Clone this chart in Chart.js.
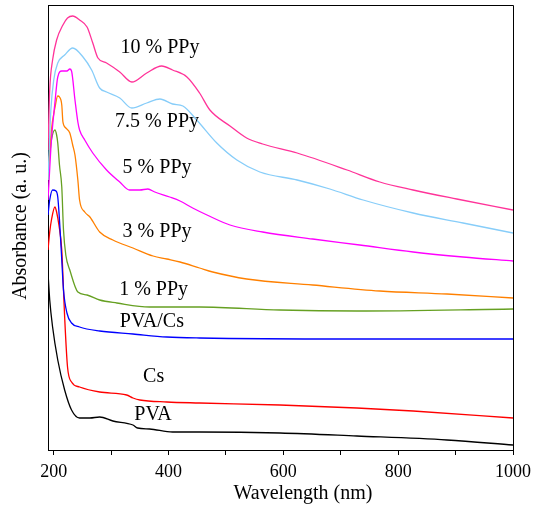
<!DOCTYPE html>
<html>
<head>
<meta charset="utf-8">
<script src="https://cdn.jsdelivr.net/npm/chart.js@4.4.1/dist/chart.umd.min.js"></script>
<style>
  html, body { margin: 0; padding: 0; background: #fff; }
  #wrap { width: 544px; height: 521px; }
</style>
</head>
<body>
<div id="wrap"><canvas id="chart" width="544" height="521"></canvas></div>
<script>
// wavelength (nm) / absorbance (a. u.)
const ppy10Wl = [190, 193, 198, 205, 216, 224, 233, 245, 258, 268, 277, 292, 315, 336, 362, 388, 407, 432, 454, 472, 507, 536, 564, 624, 711, 768, 826, 902, 1000];
const ppy10Abs = [3.00, 3.60, 3.90, 4.10, 4.25, 4.32, 4.34, 4.30, 4.23, 4.07, 3.92, 3.87, 3.78, 3.68, 3.77, 3.84, 3.80, 3.73, 3.57, 3.40, 3.24, 3.12, 3.06, 2.97, 2.80, 2.68, 2.60, 2.51, 2.40];

const ppy75Wl = [190, 195, 200, 207, 219, 233, 251, 266, 280, 292, 315, 336, 362, 385, 407, 425, 449, 484, 519, 559, 624, 681, 739, 826, 913, 1000];
const ppy75Abs = [2.70, 3.40, 3.70, 3.87, 3.95, 4.02, 3.93, 3.80, 3.62, 3.58, 3.52, 3.42, 3.47, 3.51, 3.46, 3.44, 3.30, 3.07, 2.90, 2.78, 2.70, 2.61, 2.50, 2.37, 2.27, 2.17];

const ppy5Wl = [190, 196, 202, 207, 214, 223, 228, 231, 237, 242, 245, 254, 268, 292, 315, 332, 350, 364, 376, 402, 420, 442, 467, 507, 564, 651, 733, 826, 913, 1000];
const ppy5Abs = [2.50, 3.10, 3.47, 3.73, 3.79, 3.79, 3.81, 3.79, 3.50, 3.28, 3.20, 3.10, 2.97, 2.80, 2.68, 2.60, 2.60, 2.61, 2.58, 2.53, 2.49, 2.42, 2.35, 2.25, 2.18, 2.11, 2.05, 1.98, 1.93, 1.89];

const ppy3Wl = [190, 196, 202, 207, 210, 214, 216, 221, 228, 233, 237, 242, 245, 254, 263, 280, 303, 338, 373, 397, 420, 454, 477, 536, 651, 768, 885, 1000];
const ppy3Abs = [2.70, 3.20, 3.42, 3.54, 3.53, 3.45, 3.28, 3.22, 3.17, 3.05, 2.95, 2.70, 2.50, 2.38, 2.33, 2.18, 2.10, 2.02, 1.94, 1.91, 1.88, 1.82, 1.78, 1.71, 1.65, 1.59, 1.56, 1.52];

const ppy1Wl = [190, 193, 196, 202, 205, 207, 210, 214, 217, 221, 228, 242, 258, 280, 310, 367, 454, 594, 728, 1000];
const ppy1Abs = [2.75, 2.95, 3.10, 3.20, 3.15, 3.07, 2.85, 2.63, 2.20, 1.95, 1.80, 1.58, 1.55, 1.50, 1.47, 1.43, 1.43, 1.40, 1.39, 1.41];

const pvaCsWl = [190, 193, 198, 204, 207, 210, 214, 217, 223, 231, 245, 280, 338, 397, 454, 716, 1000];
const pvaCsAbs = [2.35, 2.50, 2.60, 2.59, 2.53, 2.30, 1.90, 1.60, 1.37, 1.27, 1.23, 1.19, 1.16, 1.13, 1.12, 1.11, 1.11];

const csWl = [190, 193, 196, 202, 205, 209, 214, 217, 219, 224, 231, 245, 280, 327, 338, 350, 397, 454, 594, 728, 826, 1000];
const csAbs = [2.00, 2.18, 2.30, 2.43, 2.38, 2.25, 2.00, 1.60, 1.33, 0.83, 0.68, 0.63, 0.58, 0.55, 0.52, 0.50, 0.48, 0.47, 0.45, 0.42, 0.39, 0.32];

const pvaWl = [190, 193, 198, 207, 219, 231, 245, 263, 280, 303, 338, 346, 367, 407, 454, 594, 728, 885, 1000];
const pvaAbs = [1.77, 1.50, 1.23, 0.90, 0.60, 0.40, 0.32, 0.32, 0.33, 0.29, 0.25, 0.22, 0.21, 0.18, 0.18, 0.17, 0.14, 0.10, 0.05];

const seriesNames = ["10 % PPy", "7.5 % PPy", "5 % PPy", "3 % PPy", "1 % PPy", "PVA/Cs", "Cs", "PVA"];
const seriesColors = ["#ff3399", "#87cdf9", "#ff00ff", "#ff8000", "#66a022", "#0000ff", "#ff0000", "#000000"];

// where each curve name is written (wavelength, absorbance)
const labelWl = [385, 380, 380, 380, 374, 371, 374, 373];
const labelAbs = [4.02, 3.28, 2.82, 2.18, 1.60, 1.28, 0.73, 0.35];

const xTicks = [200, 300, 400, 500, 600, 700, 800, 900, 1000];

const wls = [ppy10Wl, ppy75Wl, ppy5Wl, ppy3Wl, ppy1Wl, pvaCsWl, csWl, pvaWl];
const absList = [ppy10Abs, ppy75Abs, ppy5Abs, ppy3Abs, ppy1Abs, pvaCsAbs, csAbs, pvaAbs];

const serif = "'Liberation Serif', 'Times New Roman', serif";

const datasets = seriesNames.map((name, i) => ({
  label: name,
  data: wls[i].map((w, j) => ({ x: w, y: absList[i][j] })),
  borderColor: seriesColors[i],
  borderWidth: 1.3,
  pointRadius: 0,
  fill: false,
  cubicInterpolationMode: "monotone"
}));

const decorations = {
  id: "decorations",
  afterDraw(chart) {
    const { ctx, chartArea: a, scales } = chart;
    ctx.save();
    // box frame (top and right)
    ctx.strokeStyle = "#000";
    ctx.lineWidth = 1;
    ctx.beginPath();
    ctx.moveTo(a.left, a.top + 0.5);
    ctx.lineTo(a.right + 0.5, a.top + 0.5);
    ctx.lineTo(a.right + 0.5, a.bottom);
    ctx.stroke();

    ctx.fillStyle = "#000";
    ctx.textAlign = "center";
    ctx.textBaseline = "middle";
    ctx.font = "20px " + serif;
    seriesNames.forEach((name, i) => {
      ctx.fillText(name, scales.x.getPixelForValue(labelWl[i]), scales.y.getPixelForValue(labelAbs[i]));
    });

    // axis titles
    ctx.font = "20px " + serif;
    ctx.fillText("Wavelength (nm)", 303, 494);
    ctx.translate(21, 226);
    ctx.rotate(-Math.PI / 2);
    ctx.fillText("Absorbance (a. u.)", 0, 0);
    ctx.restore();
  }
};

new Chart(document.getElementById("chart"), {
  type: "line",
  data: { datasets },
  options: {
    responsive: false,
    animation: false,
    layout: { padding: { left: 0, right: 31, top: 5, bottom: 0 } },
    plugins: { legend: { display: false }, tooltip: { enabled: false } },
    scales: {
      x: {
        type: "linear",
        min: 190,
        max: 1000,
        afterBuildTicks: (scale) => { scale.ticks = xTicks.map((v) => ({ value: v })); },
        afterFit: (scale) => { scale.height = 71; },
        ticks: {
          autoSkip: false,
          maxRotation: 0,
          color: "#000",
          padding: 6,
          font: { family: serif, size: 18 },
          callback: (v) => (v % 200 === 0 ? String(v) : "")
        },
        grid: { drawOnChartArea: false, drawTicks: true, tickLength: 5, color: "#000", lineWidth: 1 },
        border: { display: true, color: "#000", width: 1 }
      },
      y: {
        min: 0,
        max: 4.45,
        afterFit: (scale) => { scale.width = 48; },
        ticks: { display: false },
        grid: { display: false, drawTicks: false },
        border: { display: true, color: "#000", width: 1 }
      }
    }
  },
  plugins: [decorations]
});
</script>
</body>
</html>
